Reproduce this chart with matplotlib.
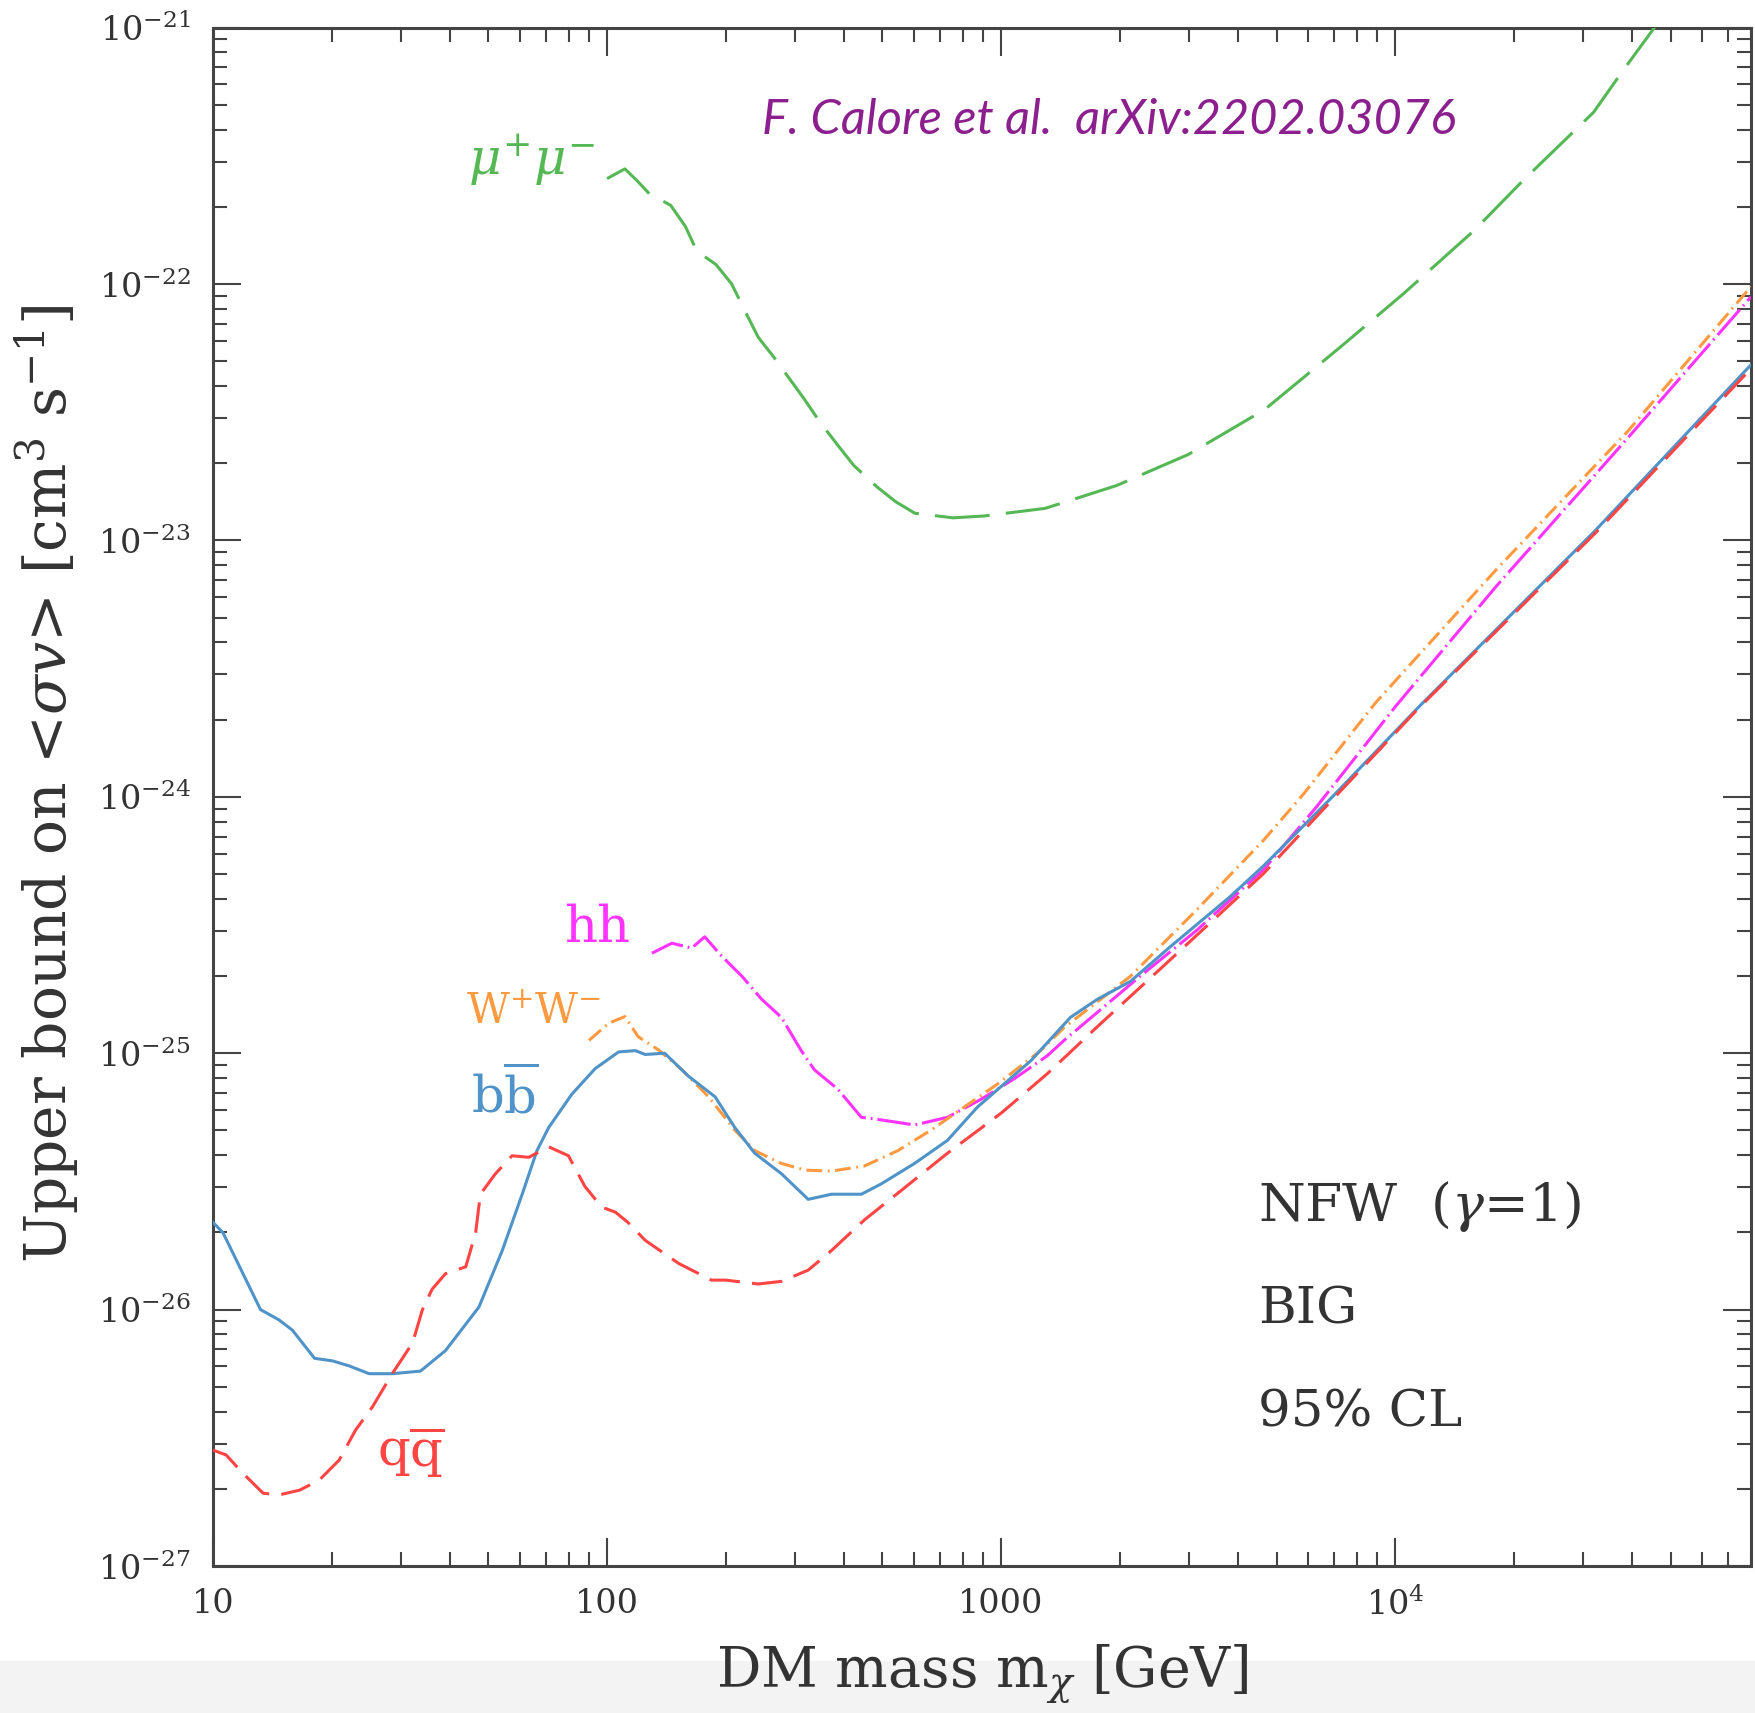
import numpy as np
import matplotlib
matplotlib.use("Agg")
import matplotlib.pyplot as plt
from matplotlib.patches import Rectangle

plt.rcParams['font.family'] = ['DejaVu Serif']
plt.rcParams['mathtext.fontset'] = 'dejavuserif'

# ---------------- data ----------------
# DM mass in GeV, upper bound given as log10(<sigma v> / cm^3 s^-1)
bb_mass = [10, 10.6, 13.2, 14.7, 15.9, 18.1, 20.1, 22.2, 24.9, 28.5, 33.6, 38.9,
           47.3, 54.2, 60.9, 66.4, 71.1, 81.4, 93.3, 107, 118, 125, 140, 161,
           188, 211, 237, 277, 324, 371, 442, 496, 603, 731, 871, 1000, 1189,
           1500, 1754, 2129, 2686, 3810, 4630, 6830, 11540, 32280, 80000]
bb_log10_sv = [-25.66, -25.70, -26.00, -26.04, -26.08, -26.19, -26.20, -26.22,
               -26.25, -26.25, -26.24, -26.16, -25.99, -25.77, -25.55, -25.38,
               -25.29, -25.16, -25.06, -24.995, -24.99, -25.005, -25.00, -25.09,
               -25.17, -25.29, -25.39, -25.47, -25.57, -25.55, -25.55, -25.51,
               -25.43, -25.34, -25.21, -25.13, -25.03, -24.86, -24.79, -24.72,
               -24.585, -24.39, -24.27, -24.01, -23.646, -22.96, -22.315]

qq_mass = [10, 10.8, 11.9, 13.4, 14.7, 16.6, 18.6, 20.9, 23.0, 25.4, 28.5, 32.1,
           34.0, 36.0, 38.9, 43.8, 46.4, 47.7, 52.1, 57.4, 63.3, 71.1, 79.8,
           87.9, 96.9, 105, 113, 125, 152, 184, 200, 242, 277, 324, 371, 450,
           547, 731, 1000, 1310, 1754, 2582, 4630, 6560, 11540, 32280, 80000]
qq_log10_sv = [-26.548, -26.567, -26.638, -26.716, -26.723, -26.704, -26.665,
               -26.587, -26.47, -26.379, -26.25, -26.13, -26.00, -25.92, -25.86,
               -25.833, -25.70, -25.55, -25.47, -25.40, -25.406, -25.365, -25.40,
               -25.52, -25.60, -25.62, -25.66, -25.73, -25.82, -25.885, -25.885,
               -25.90, -25.89, -25.846, -25.77, -25.65, -25.546, -25.39, -25.234,
               -25.08, -24.897, -24.66, -24.30, -24.05, -23.65, -22.97, -22.33]

ww_mass = [90, 101, 111, 120, 135, 155, 181, 211, 237, 277, 318, 371, 450, 547,
           664, 806, 980, 1259, 1445, 2129, 3140, 4630, 5848, 8955, 18030,
           39170, 80000]
ww_log10_sv = [-24.95, -24.883, -24.857, -24.936, -24.987, -25.065, -25.17,
               -25.30, -25.38, -25.43, -25.456, -25.46, -25.44, -25.38, -25.30,
               -25.21, -25.12, -24.99, -24.90, -24.70, -24.44, -24.17, -23.99,
               -23.63, -23.115, -22.57, -22.01]

hh_mass = [130, 146, 164, 177, 195, 220, 247, 277, 311, 336, 385, 442, 496, 603,
           731, 889, 1079, 1310, 1445, 2253, 3140, 4630, 6310, 10040, 18030,
           39170, 80000]
hh_log10_sv = [-24.61, -24.571, -24.59, -24.546, -24.62, -24.70, -24.79, -24.86,
               -24.99, -25.065, -25.14, -25.25, -25.26, -25.28, -25.25, -25.18,
               -25.10, -25.01, -24.95, -24.70, -24.52, -24.285, -24.04, -23.646,
               -23.18, -22.596, -22.05]

mumu_mass = [100, 111, 119, 128, 145, 158, 169, 189, 207, 226, 242, 264, 296, 316,
             346, 387, 423, 483, 540, 604, 755, 902, 1294, 1964, 2985, 4664,
             7273, 10460, 15900, 21000, 31900, 37760, 45300, 50000]
mumu_log10_sv = [-21.589, -21.551, -21.596, -21.648, -21.693, -21.775, -21.872,
                 -21.924, -21.999, -22.118, -22.208, -22.282, -22.387, -22.447,
                 -22.536, -22.633, -22.708, -22.790, -22.849, -22.894, -22.912,
                 -22.905, -22.875, -22.786, -22.665, -22.49, -22.245, -22.04,
                 -21.79, -21.60, -21.33, -21.17, -21.004, -20.93]

x_major = [10, 100, 1000, 1e4]
x_major_labels = ['10', '100', '1000', r'$10^{4}$']
y_major = [1e-27, 1e-26, 1e-25, 1e-24, 1e-23, 1e-22, 1e-21]
y_major_labels = [r'$10^{-27}$', r'$10^{-26}$', r'$10^{-25}$', r'$10^{-24}$',
                  r'$10^{-23}$', r'$10^{-22}$', r'$10^{-21}$']

# ---------------- figure ----------------
W, H = 1756, 1713
fig = plt.figure(figsize=(W / 100, H / 100), dpi=100)
fig.patch.set_facecolor('white')
fig.patches.append(Rectangle((0, 0), 1, 52 / H, transform=fig.transFigure,
                             facecolor='#f3f3f3', edgecolor='none', zorder=-5))

L, R, T, B = 213, 1751, 27.6, 1566
ax = fig.add_axes([L / W, 1 - B / H, (R - L) / W, (B - T) / H])
ax.set_xscale('log')
ax.set_yscale('log')
ax.set_xlim(10, 8e4)
ax.set_ylim(1e-27, 1e-21)

lw = 2.2
c_bb, c_qq, c_ww, c_hh, c_mu = '#4f93c8', '#ff4444', '#ff9a40', '#ff33ff', '#55b855'

ax.plot(mumu_mass, 10 ** np.asarray(mumu_log10_sv), color=c_mu, lw=lw,
        dashes=(18, 5.3), zorder=3)
ax.plot(hh_mass, 10 ** np.asarray(hh_log10_sv), color=c_hh, lw=lw,
        dashes=(11, 1.6, 0.6, 1.6), zorder=4)
ax.plot(ww_mass, 10 ** np.asarray(ww_log10_sv), color=c_ww, lw=lw,
        dashes=(5.2, 1.8, 0.6, 1.8), zorder=4)
ax.plot(bb_mass, 10 ** np.asarray(bb_log10_sv), color=c_bb, lw=lw,
        solid_joinstyle='round', zorder=5)
ax.plot(qq_mass, 10 ** np.asarray(qq_log10_sv), color=c_qq, lw=lw,
        dashes=(10, 4), zorder=6)

# ticks
axis_col = '#444444'
for s in ax.spines.values():
    s.set_linewidth(2.2)
    s.set_color(axis_col)
ax.tick_params(which='both', direction='in', top=True, right=True,
               color=axis_col, width=1.5)
ax.tick_params(which='major', length=20, pad=16, labelsize=24, labelcolor='#333333')
ax.tick_params(which='minor', length=10)
ax.xaxis.set_major_locator(matplotlib.ticker.FixedLocator(x_major))
ax.xaxis.set_major_formatter(matplotlib.ticker.FixedFormatter(x_major_labels))
ax.xaxis.set_minor_locator(matplotlib.ticker.LogLocator(base=10, subs=np.arange(2, 10), numticks=20))
ax.xaxis.set_minor_formatter(matplotlib.ticker.NullFormatter())
ax.yaxis.set_major_locator(matplotlib.ticker.FixedLocator(y_major))
ax.yaxis.set_major_formatter(matplotlib.ticker.FixedFormatter(y_major_labels))
ax.yaxis.set_minor_locator(matplotlib.ticker.LogLocator(base=10, subs=np.arange(2, 10), numticks=20))
ax.yaxis.set_minor_formatter(matplotlib.ticker.NullFormatter())

# axis labels
txt_col = '#333333'
fig.text(47 / W, 1 - 784 / H, r'Upper bound on <$\sigma v$> [cm$^3$ s$^{-1}$]',
         rotation=90, ha='center', va='center', fontsize=42, color=txt_col)
fig.text(982 / W, 1 - 1674 / H, r'DM mass m$_\chi$ [GeV]',
         ha='center', va='center', fontsize=40, color=txt_col)

# curve labels
def ftext(x, y, s, **kw):
    fig.text(x / W, 1 - y / H, s, ha='left', va='center', **kw)

ftext(468, 160, r'$\mu^{+}\mu^{-}$', fontsize=36, color=c_mu)
ftext(564, 928, 'hh', fontsize=37, color=c_hh)
ftext(466, 1012, r'W$^{+}$W$^{-}$', fontsize=30, color=c_ww)
ftext(471, 1096, r'b$\overline{\rm b}$', fontsize=37, color=c_bb)
ftext(377, 1452, r'q$\overline{\rm q}$', fontsize=37, color=c_qq)

ftext(1258, 1206, r'NFW  ($\gamma$=1)', fontsize=38.5, color=txt_col)
ftext(1258, 1310, 'BIG', fontsize=37, color=txt_col)
ftext(1258, 1413, '95% CL', fontsize=37, color=txt_col)

fig.text(762 / W, 1 - 120 / H, 'F. Calore et al.  arXiv:2202.03076',
         ha='left', va='center', fontsize=35, color='#8c1f8e',
         family='Lato', style='italic')

fig.savefig('out.png', dpi=100)
